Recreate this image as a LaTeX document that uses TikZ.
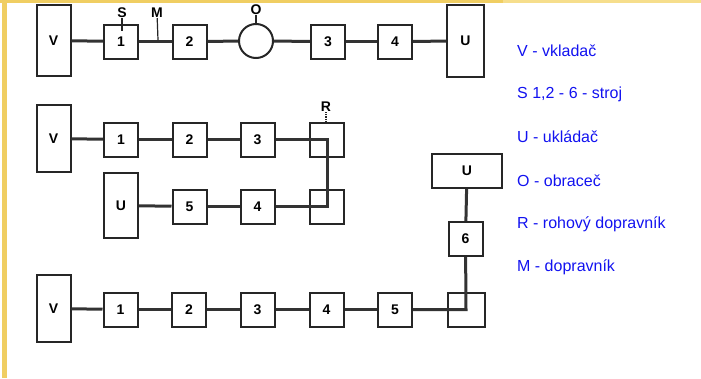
\documentclass[tikz,border=0pt]{standalone}
\usepackage{fontspec}
\setmainfont{Liberation Sans}
\definecolor{frame}{RGB}{240,206,98}
\definecolor{framelight}{RGB}{246,222,140}
\definecolor{legend}{RGB}{18,18,240}
\tikzset{
  unit/.style={draw=black!85, line width=2pt, fill=white, minimum width=34pt,
    minimum height=34pt, inner sep=0pt, font=\fontsize{14}{14}\selectfont\bfseries},
  tall/.style={unit, minimum width=34pt, minimum height=67pt},
  turner/.style={unit, circle, minimum size=34pt},
  belt/.style={line width=3pt, black!80},
  tick/.style={line width=1.2pt, black!85},
  tag/.style={font=\fontsize{14}{14}\selectfont\bfseries, inner sep=0pt},
  key/.style={anchor=west, text=legend, inner sep=0pt, font=\fontsize{16}{18}\selectfont},
}
\begin{document}
\begin{tikzpicture}[x=1pt,y=-1pt]
\useasboundingbox (0,0) rectangle (701,378);
%frame
\fill[frame](2,0)rectangle(7,378);
\fill[frame](0,0)rectangle(503,3);
\fill[framelight](503,0)rectangle(701,2.5);
%line 1
\node[tall, minimum height=71pt] (V1) at (53.5,40.5) {V};
\node[unit] (a1) at (121,41.5) {1};
\node[unit] (a2) at (189.5,41.5) {2};
\node[turner] (O1) at (256,41) {};
\node[unit] (a3) at (328,41.5) {3};
\node[unit] (a4) at (395,41.5) {4};
\node[tall, minimum width=37pt, minimum height=72pt] (U1) at (465.5,41) {U};
\foreach \a/\b in {V1/a1,a1/a2,a2/O1,O1/a3,a3/a4,a4/U1}
  \draw[belt](\a)--(\b);
\node[tag] (S) at (122,13) {S};
\node[tag] (M) at (157,13) {M};
\node[tag] (O) at (256,10) {O};
\coordinate (sdot) at (122,31);
\coordinate (mdot) at (158,40);
\draw[tick](S)--(sdot);
\draw[tick](M)--(mdot);
\draw[tick](O)--(O1.north);
%line 2
\node[tall] (V2) at (53.5,138.5) {V};
\node[unit] (b1) at (121,139.5) {1};
\node[unit] (b2) at (189.5,139.5) {2};
\node[unit] (b3) at (257.5,139.5) {3};
\node[unit] (r1) at (327,139.5) {};
\node[tall, minimum height=65pt] (U2) at (121,205.5) {U};
\node[unit] (b5) at (189.5,206.5) {5};
\node[unit] (b4) at (257.5,206.5) {4};
\node[unit] (r2) at (327,206.5) {};
\foreach \a/\b in {V2/b1,b1/b2,b2/b3,b4/b5,b5/U2}
  \draw[belt](\a)--(\b);
\draw[belt](b3)--(r1.center)--(r2.center)--(b4);
\node[tag] (R) at (326,107) {R};
\coordinate (rdot) at (326,125);
\draw[tick,densely dotted](R)--(rdot);
%line 3
\node[tall] (V3) at (53.5,308.5) {V};
\node[unit] (c1) at (120.5,309.5) {1};
\node[unit] (c2) at (189,309.5) {2};
\node[unit] (c3) at (257.5,309.5) {3};
\node[unit] (c4) at (326.5,309.5) {4};
\node[unit] (c5) at (395,309.5) {5};
\node[unit, minimum width=37pt] (r3) at (466,309.5) {};
\node[unit] (c6) at (465.5,239) {6};
\node[unit, minimum width=70pt] (U3) at (467,171) {U};
\foreach \a/\b in {V3/c1,c1/c2,c2/c3,c3/c4,c4/c5}
  \draw[belt](\a)--(\b);
\draw[belt](c5)--(r3.center)--(c6);
\draw[belt](c6)--(U3);
%legend
\node[key] (kV) at (517,51) {V - vkladač};
\node[key] (kS) at (517,94) {S 1,2 - 6 - stroj};
\node[key] (kU) at (517,137) {U - ukládač};
\node[key] (kO) at (517,181) {O - obraceč};
\node[key] (kR) at (517,224) {R - rohový dopravník};
\node[key] (kM) at (517,267) {M - dopravník};
\end{tikzpicture}
\end{document}
